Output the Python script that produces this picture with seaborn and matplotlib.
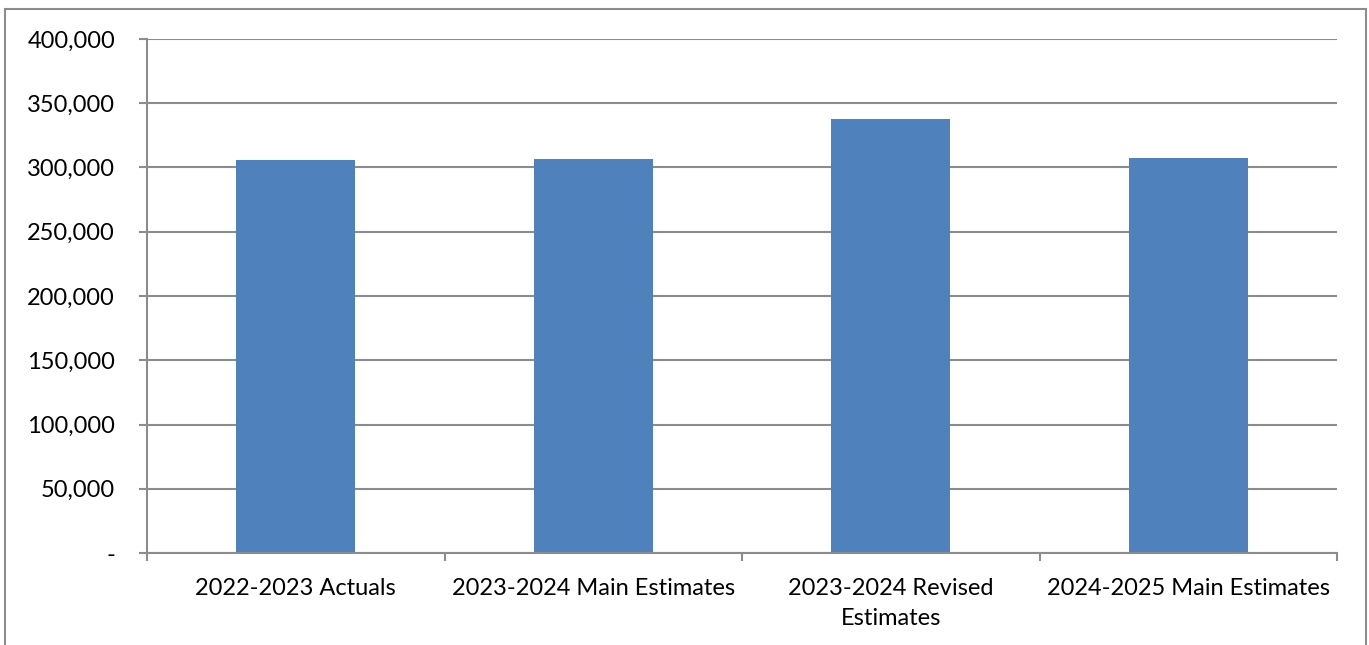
import matplotlib
matplotlib.use("Agg")
import matplotlib.pyplot as plt
import matplotlib.ticker as mticker
from matplotlib.patches import Rectangle
import seaborn as sns
import pandas as pd

categories = ["2022-2023 Actuals", "2023-2024 Main Estimates",
              "2023-2024 Revised\nEstimates", "2024-2025 Main Estimates"]
values = [305800, 306600, 337600, 307100]
y_ticks = [0, 50000, 100000, 150000, 200000, 250000, 300000, 350000, 400000]

sns.set_theme(style="white")
plt.rcParams['font.family'] = ['Lato', 'DejaVu Sans']

fig = plt.figure(figsize=(13.69, 6.45), dpi=100)
ax = fig.add_axes([147/1369, 1-553/645, (1337-147)/1369, (553-39)/645])

df = pd.DataFrame({"cat": categories, "val": values})
sns.barplot(data=df, x="cat", y="val", color="#4F81BD", saturation=1,
            width=0.4, ax=ax, edgecolor="#4F81BD", linewidth=0)

ax.set_xlim(-0.5, 3.5)
ax.set_ylim(0, 400000)
ax.set_yticks(y_ticks)
ax.yaxis.set_major_formatter(mticker.FuncFormatter(
    lambda v, p: "-" if v == 0 else f"{int(v):,}"))
ax.set_xlabel("")
ax.set_ylabel("")

ax.grid(axis="y", color="#8C8C8C", linewidth=1.5)
ax.set_axisbelow(True)
for s in ["top", "right"]:
    ax.spines[s].set_visible(False)
for s in ["left", "bottom"]:
    ax.spines[s].set_color("#8C8C8C")
    ax.spines[s].set_linewidth(1.5)

ax.tick_params(axis="y", which="major", length=6, width=1.5, color="#8C8C8C",
               direction="out", left=True, pad=17, labelsize=17, labelcolor="black")
ax.set_xticks([-0.5, 0.5, 1.5, 2.5, 3.5], minor=True)
ax.tick_params(axis="x", which="minor", length=6, width=1.5, color="#8C8C8C",
               direction="out", bottom=True)
ax.tick_params(axis="x", which="major", length=0, pad=18, labelsize=17,
               labelcolor="black")
for lbl in ax.get_xticklabels():
    lbl.set_ha("center")
    lbl.set_va("top")
    lbl.set_multialignment("center")
    lbl.set_linespacing(1.55)

fig.patches.append(Rectangle((5/1369, -0.05), (1366-5)/1369, 1.05 - 9/645,
                             transform=fig.transFigure, fill=False,
                             edgecolor="#8C8C8C", linewidth=1.5))

fig.savefig("out.png", dpi=100)
